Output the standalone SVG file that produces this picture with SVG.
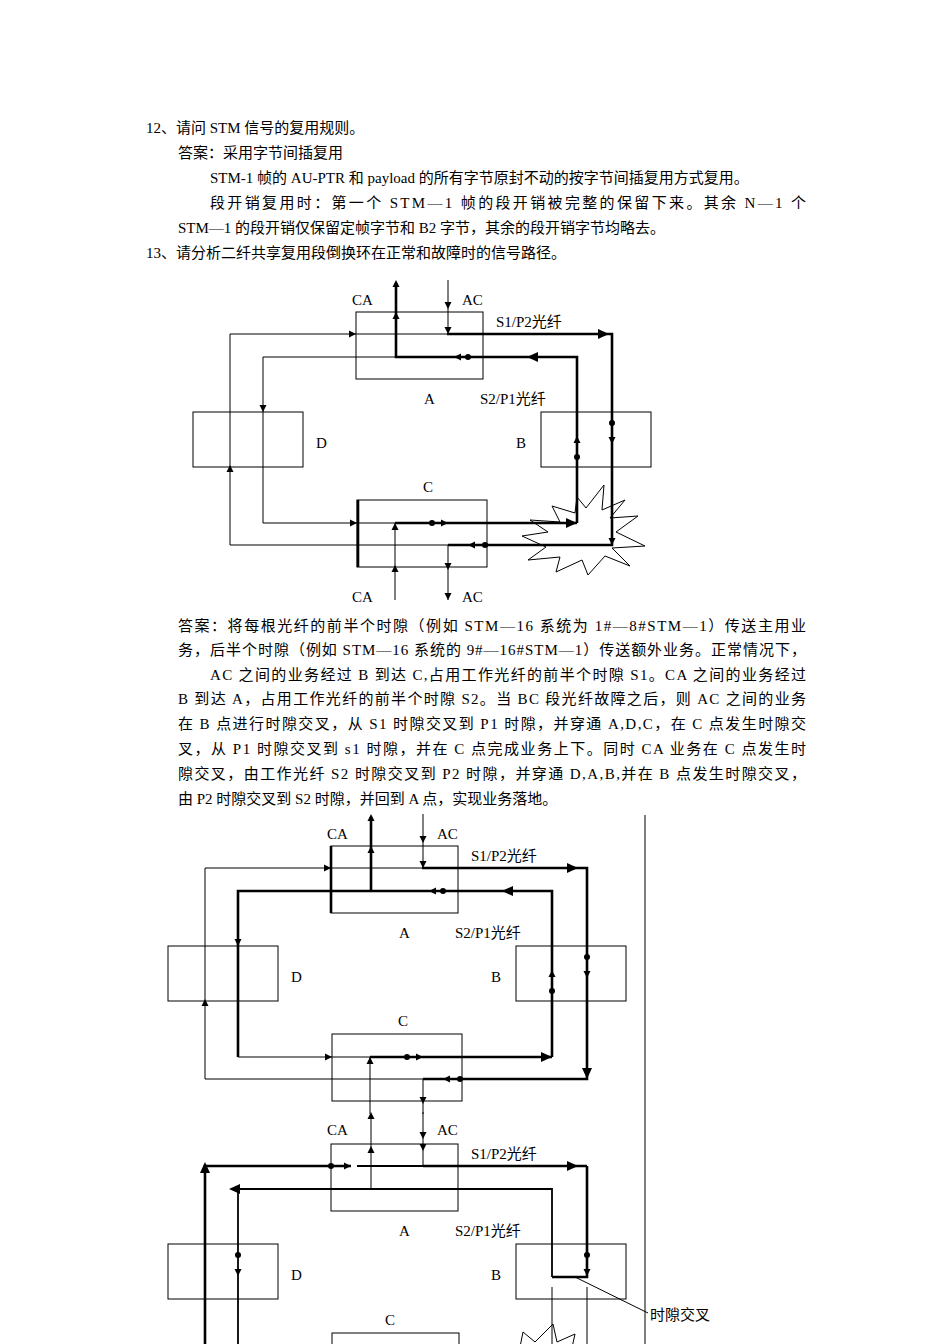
<svg xmlns="http://www.w3.org/2000/svg" xmlns:xlink="http://www.w3.org/1999/xlink" width="950" height="1344" viewBox="0 0 950 1344">
<style>
text{font-family:"Liberation Serif","Noto Sans CJK SC",serif;font-size:15px;fill:#000}
.b{fill:none;stroke:#000;stroke-width:1}
.t{fill:none;stroke:#000;stroke-width:1}
.k{fill:none;stroke:#000;stroke-width:2.6}
.m{fill:none;stroke:#000;stroke-width:1.8}
</style>
<defs>
<path id="tr" d="M0,0 L-7,-3.5 L-7,3.5Z"/>
<path id="TR" d="M0,0 L-11,-5 L-11,5Z"/>
<circle id="dt" r="3"/>
</defs>
<rect width="950" height="1344" fill="#fff"/>
<g id="text">
<text x="146" y="133">12、请问 STM 信号的复用规则。</text>
<text x="178" y="158">答案：采用字节间插复用</text>
<text x="210" y="183">STM-1 帧的 AU-PTR 和 payload 的所有字节原封不动的按字节间插复用方式复用。</text>
<text x="210" y="208" textLength="596">段开销复用时：第一个 STM—1 帧的段开销被完整的保留下来。其余 N—1 个</text>
<text x="178" y="233">STM—1 的段开销仅保留定帧字节和 B2 字节，其余的段开销字节均略去。</text>
<text x="146" y="258">13、请分析二纤共享复用段倒换环在正常和故障时的信号路径。</text>
<text x="178" y="631" textLength="628">答案：将每根光纤的前半个时隙（例如 STM—16 系统为 1#—8#STM—1）传送主用业</text>
<text x="178" y="655" textLength="628">务，后半个时隙（例如 STM—16 系统的 9#—16#STM—1）传送额外业务。正常情况下，</text>
<text x="210" y="680" textLength="596">AC 之间的业务经过 B 到达 C,占用工作光纤的前半个时隙 S1。CA 之间的业务经过</text>
<text x="178" y="704" textLength="628">B 到达 A，占用工作光纤的前半个时隙 S2。当 BC 段光纤故障之后，则 AC 之间的业务</text>
<text x="178" y="729" textLength="628">在 B 点进行时隙交叉，从 S1 时隙交叉到 P1 时隙，并穿通 A,D,C，在 C 点发生时隙交</text>
<text x="178" y="754" textLength="628">叉，从 P1 时隙交叉到 s1 时隙，并在 C 点完成业务上下。同时 CA 业务在 C 点发生时</text>
<text x="178" y="779" textLength="628">隙交叉，由工作光纤 S2 时隙交叉到 P2 时隙，并穿通 D,A,B,并在 B 点发生时隙交叉，</text>
<text x="178" y="804">由 P2 时隙交叉到 S2 时隙，并回到 A 点，实现业务落地。</text>
</g>
<line x1="645" y1="815" x2="645" y2="1344" class="t"/>

<!-- Diagram 1 -->
<g id="diagram1">
<g id="d1-nodes">
<rect x="356" y="312" width="127" height="67" class="b"/>
<rect x="193" y="412" width="110" height="55" class="b"/>
<rect x="541" y="412" width="110" height="55" class="b"/>
<rect x="357" y="500" width="130" height="67" class="b"/>
<text x="352" y="305">CA</text><text x="462" y="305">AC</text>
<text x="496" y="327">S1/P2光纤</text><text x="424" y="404">A</text><text x="480" y="404">S2/P1光纤</text>
<text x="316" y="448">D</text><text x="516" y="448">B</text><text x="423" y="492">C</text>
<text x="352" y="602">CA</text><text x="462" y="602">AC</text>
</g>
<polygon points="577,497 586,508 604,485 602,510 625,500 610,518 638,516 616,532 645,546 612,548 630,566 605,556 588,575 582,560 556,572 560,557 528,560 546,547 522,536 548,532 530,520 560,522 552,506 575,513" fill="#fff" stroke="#000"/>
<g id="d1-connectors">
<path class="t" d="M447,334 H230 V545 H448 M263,357 V523 H395 M396,357 H263 M448,280 V334 M395,600 V523 M448,545 V600"/>
<path class="k" d="M447,334 H612 V545 H448 M577,523 V357 H396 V283 M395,523 H577 M358,500 V567"/>
<use xlink:href="#tr" transform="translate(356,334)"/>
<use xlink:href="#TR" transform="translate(609,334)"/>
<use xlink:href="#tr" transform="translate(396,280) rotate(-90)"/>
<use xlink:href="#tr" transform="translate(396,312) rotate(-90)"/>
<use xlink:href="#tr" transform="translate(448,309) rotate(90)"/>
<use xlink:href="#tr" transform="translate(448,334) rotate(90)"/>
<use xlink:href="#TR" transform="translate(527,357) rotate(180)"/>
<use xlink:href="#dt" x="468" y="357"/><use xlink:href="#tr" transform="translate(454,357) rotate(180)"/>
<use xlink:href="#tr" transform="translate(263,412) rotate(90)"/>
<use xlink:href="#tr" transform="translate(357,523)"/>
<use xlink:href="#dt" x="432" y="523"/><use xlink:href="#tr" transform="translate(448,523)"/>
<use xlink:href="#TR" transform="translate(577,523)"/>
<use xlink:href="#tr" transform="translate(395,523) rotate(-90)"/>
<use xlink:href="#tr" transform="translate(395,565) rotate(-90)"/>
<use xlink:href="#dt" x="577" y="457"/><use xlink:href="#tr" transform="translate(577,436) rotate(-90)"/>
<use xlink:href="#dt" x="612" y="423"/><use xlink:href="#tr" transform="translate(612,444) rotate(90)"/>
<use xlink:href="#tr" transform="translate(612,545) rotate(90)"/>
<use xlink:href="#dt" x="485" y="545"/><use xlink:href="#tr" transform="translate(468,545) rotate(180)"/>
<use xlink:href="#tr" transform="translate(448,570) rotate(90)"/>
<use xlink:href="#tr" transform="translate(448,600) rotate(90)"/>
<use xlink:href="#tr" transform="translate(230,465) rotate(-90)"/>
</g>
</g>

<!-- Diagram 2 -->
<g id="diagram2" transform="translate(-25,534)">
<g id="d2-nodes">
<rect x="356" y="312" width="127" height="67" class="b"/>
<rect x="193" y="412" width="110" height="55" class="b"/>
<rect x="541" y="412" width="110" height="55" class="b"/>
<rect x="357" y="500" width="130" height="67" class="b"/>
<text x="352" y="305">CA</text><text x="462" y="305">AC</text>
<text x="496" y="327">S1/P2光纤</text><text x="424" y="404">A</text><text x="480" y="404">S2/P1光纤</text>
<text x="316" y="448">D</text><text x="516" y="448">B</text><text x="423" y="492">C</text>
</g>
<g id="d2-connectors">
<path class="t" d="M447,334 H230 V545 H448 M263,523 H395 M448,280 V334 M395,580 V523 M448,545 V580"/>
<path class="k" d="M447,334 H612 V545 H448 M577,523 V357 H263 V523 M396,357 V283 M395,523 H577 M356,312 V379"/>
<use xlink:href="#tr" transform="translate(356,334)"/>
<use xlink:href="#TR" transform="translate(603,334)"/>
<use xlink:href="#tr" transform="translate(396,280) rotate(-90)"/>
<use xlink:href="#tr" transform="translate(396,312) rotate(-90)"/>
<use xlink:href="#tr" transform="translate(448,309) rotate(90)"/>
<use xlink:href="#tr" transform="translate(448,334) rotate(90)"/>
<use xlink:href="#TR" transform="translate(527,357) rotate(180)"/>
<use xlink:href="#dt" x="468" y="357"/><use xlink:href="#tr" transform="translate(454,357) rotate(180)"/>
<use xlink:href="#tr" transform="translate(263,412) rotate(90)"/>
<use xlink:href="#tr" transform="translate(357,523)"/>
<use xlink:href="#dt" x="432" y="523"/><use xlink:href="#tr" transform="translate(448,523)"/>
<use xlink:href="#TR" transform="translate(577,523)"/>
<use xlink:href="#tr" transform="translate(395,523) rotate(-90)"/>
<use xlink:href="#dt" x="577" y="457"/><use xlink:href="#tr" transform="translate(577,436) rotate(-90)"/>
<use xlink:href="#dt" x="612" y="423"/><use xlink:href="#tr" transform="translate(612,444) rotate(90)"/>
<use xlink:href="#TR" transform="translate(612,545) rotate(90)"/>
<use xlink:href="#dt" x="485" y="545"/><use xlink:href="#tr" transform="translate(468,545) rotate(180)"/>
<use xlink:href="#tr" transform="translate(448,570) rotate(90)"/>
<use xlink:href="#tr" transform="translate(230,465) rotate(-90)"/>
</g>
</g>

<!-- Diagram 3 -->
<g id="diagram3" transform="translate(-25,832)">
<g id="d3-nodes">
<rect x="356" y="312" width="127" height="67" class="b"/>
<rect x="193" y="412" width="110" height="55" class="b"/>
<rect x="541" y="412" width="110" height="55" class="b"/>
<rect x="357" y="501" width="127" height="40" class="b"/>
<text x="352" y="303">CA</text><text x="462" y="303">AC</text>
<text x="496" y="327">S1/P2光纤</text><text x="424" y="404">A</text><text x="480" y="404">S2/P1光纤</text>
<text x="316" y="448">D</text><text x="516" y="448">B</text><text x="410" y="493">C</text>
<text x="675" y="488">时隙交叉</text>
</g>
<polygon points="548,500 560,510 578,492 582,510 600,502 596,520 590,530 560,530 545,515" fill="#fff" stroke="#000"/>
<g id="d3-connectors">
<path class="t" d="M396,357 V283 M448,280 V334 M577,455 V520 M612,455 V520 M600,445 L673,481"/>
<path class="k" d="M230,520 V334 H376 M612,334 V445 H577 M448,334 H612"/>
<path class="m" d="M382,334 H448 M577,445 V357 H263 V520"/>
<use xlink:href="#dt" x="356" y="334"/><use xlink:href="#tr" transform="translate(376,334)"/>
<use xlink:href="#TR" transform="translate(603,334)"/>
<use xlink:href="#TR" transform="translate(230,330) rotate(-90)"/>
<use xlink:href="#TR" transform="translate(254,357) rotate(180)"/>
<use xlink:href="#tr" transform="translate(396,280) rotate(-90)"/>
<use xlink:href="#tr" transform="translate(396,314) rotate(-90)"/>
<use xlink:href="#tr" transform="translate(448,307) rotate(90)"/>
<use xlink:href="#tr" transform="translate(448,319) rotate(90)"/>
<use xlink:href="#dt" x="263" y="423"/><use xlink:href="#tr" transform="translate(263,444) rotate(90)"/>
<use xlink:href="#dt" x="612" y="423"/><use xlink:href="#tr" transform="translate(612,444) rotate(90)"/>
</g>
</g>
</svg>
